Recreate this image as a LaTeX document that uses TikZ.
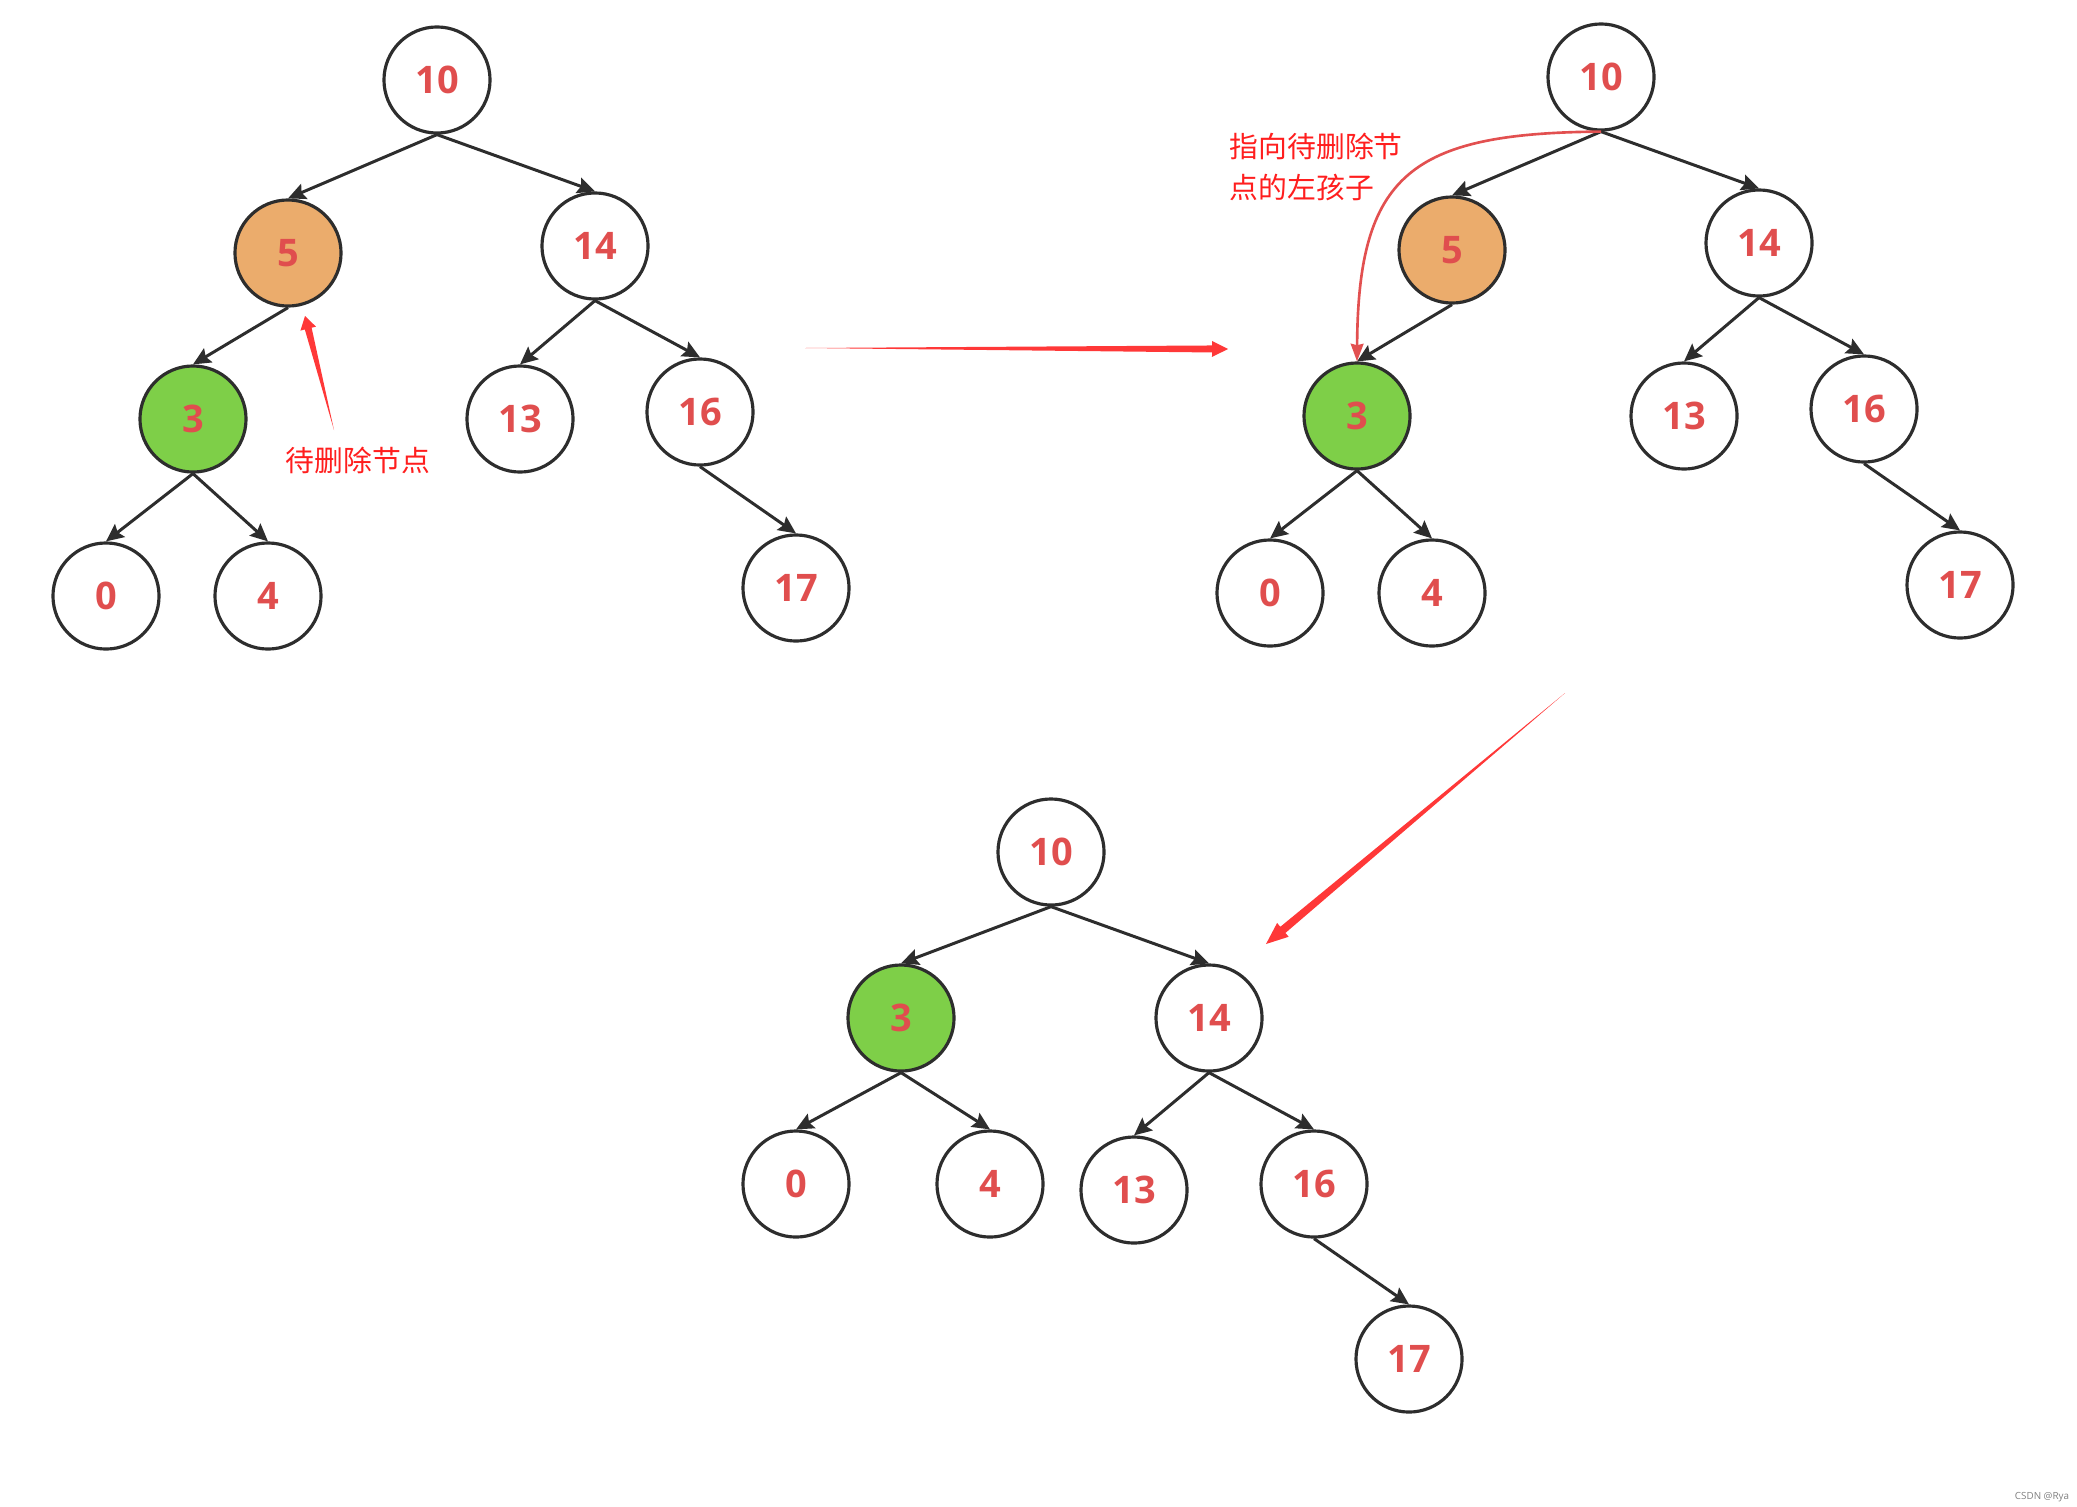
\documentclass[tikz,border=0pt]{standalone}
\usepackage{fontspec}
\setmainfont{Open Sans}
\newfontfamily\cjk{Noto Sans CJK SC}
\usepackage{xcolor}
\usepackage{tikz}
\usetikzlibrary{arrows.meta, calc, positioning}

\definecolor{numred}{RGB}{224,78,78}
\definecolor{delorange}{RGB}{235,172,108}
\definecolor{repgreen}{RGB}{126,207,72}
\definecolor{linegray}{RGB}{45,45,45}
\definecolor{arrowred}{RGB}{255,56,56}
\definecolor{notered}{RGB}{255,30,30}
\definecolor{curvered}{RGB}{226,80,80}

\tikzset{
  tnode/.style={circle, draw=linegray, line width=0.9pt, minimum size=1.06cm, inner sep=0pt,
    text=numred, font=\bfseries\fontsize{10.8}{12}\selectfont},
  delnode/.style={tnode, fill=delorange},
  repnode/.style={tnode, fill=repgreen},
  tedge/.style={draw=linegray, line width=0.85pt, -{Stealth[length=5pt,width=4.6pt,inset=0.8pt]}},
  notetext/.style={text=notered, inner sep=0pt, font=\cjk\fontsize{8.2}{11.4}\selectfont},
  ptrcurve/.style={draw=curvered, line width=0.75pt, -{Stealth[length=5pt,width=3.6pt,inset=0.4pt]}}
}

% tapered red arrow: start, tip, head length, head half width, shaft half width
\newcommand{\taperarrow}[5]{%
  \coordinate (hb) at ($(#2)!#3!(#1)$);
  \fill[arrowred] (#1) -- ($(hb)!#5!90:(#2)$) -- ($(hb)!#4!90:(#2)$) -- (#2)
    -- ($(hb)!#4!-90:(#2)$) -- ($(hb)!#5!-90:(#2)$) -- cycle;
}

\begin{document}
\begin{tikzpicture}[x=0.01cm, y=-0.01cm]
  \useasboundingbox (0,0) rectangle (2077,1506);

  % tree before
  \node[tnode] (A10) at (437,80) {10};
  \node[delnode] (A5) at (288,253) {5};
  \node[tnode] (A14) at (595,246) {14};
  \node[repnode] (A3) at (193,419) {3};
  \node[tnode] (A13) at (520,419) {13};
  \node[tnode] (A16) at (700,412) {16};
  \node[tnode] (A0) at (106,596) {0};
  \node[tnode] (A4) at (268,596) {4};
  \node[tnode] (A17) at (796,588) {17};

  % tree with pointer
  \node[tnode] (B10) at (1601,77) {10};
  \node[delnode] (B5) at (1452,250) {5};
  \node[tnode] (B14) at (1759,243) {14};
  \node[repnode] (B3) at (1357,416) {3};
  \node[tnode] (B13) at (1684,416) {13};
  \node[tnode] (B16) at (1864,409) {16};
  \node[tnode] (B0) at (1270,593) {0};
  \node[tnode] (B4) at (1432,593) {4};
  \node[tnode] (B17) at (1960,585) {17};

  % tree after
  \node[tnode] (C10) at (1051,852) {10};
  \node[repnode] (C3) at (901,1018) {3};
  \node[tnode] (C14) at (1209,1018) {14};
  \node[tnode] (C0) at (796,1184) {0};
  \node[tnode] (C4) at (990,1184) {4};
  \node[tnode] (C13) at (1134,1190) {13};
  \node[tnode] (C16) at (1314,1184) {16};
  \node[tnode] (C17) at (1409,1359) {17};

  \foreach \p/\c in {A10/A5, A10/A14, A5/A3, A14/A13, A14/A16, A3/A0, A3/A4, A16/A17,
                     B10/B5, B10/B14, B5/B3, B14/B13, B14/B16, B3/B0, B3/B4, B16/B17,
                     C10/C3, C10/C14, C3/C0, C3/C4, C14/C13, C14/C16, C16/C17}
    \draw[tedge] (\p.south) -- (\c.north);

  % notes
  \node[notetext] (delnote) at (358,460) {待删除节点};
  \node[notetext, anchor=west, align=left] (ptrnote) at (1229,167) {指向待删除节\\点的左孩子};
  \draw[ptrcurve] (B10.south) .. controls (1410,133) and (1358,175) .. (B3.north);

  % red arrows
  \coordinate (delstart) at (334,430);
  \coordinate (deltip) at (305,316);
  \taperarrow{delstart}{deltip}{0.13cm}{0.08cm}{0.035cm}
  \coordinate (hstart) at (805,348);
  \coordinate (htip) at (1228,349);
  \taperarrow{hstart}{htip}{0.16cm}{0.08cm}{0.035cm}
  \coordinate (dstart) at (1565,693);
  \coordinate (dtip) at (1266,944);
  \taperarrow{dstart}{dtip}{0.22cm}{0.09cm}{0.04cm}

  \node[text=gray, font=\fontsize{2.8}{3}\selectfont] (mark) at (2042,1497) {CSDN @Rya};
\end{tikzpicture}
\end{document}
